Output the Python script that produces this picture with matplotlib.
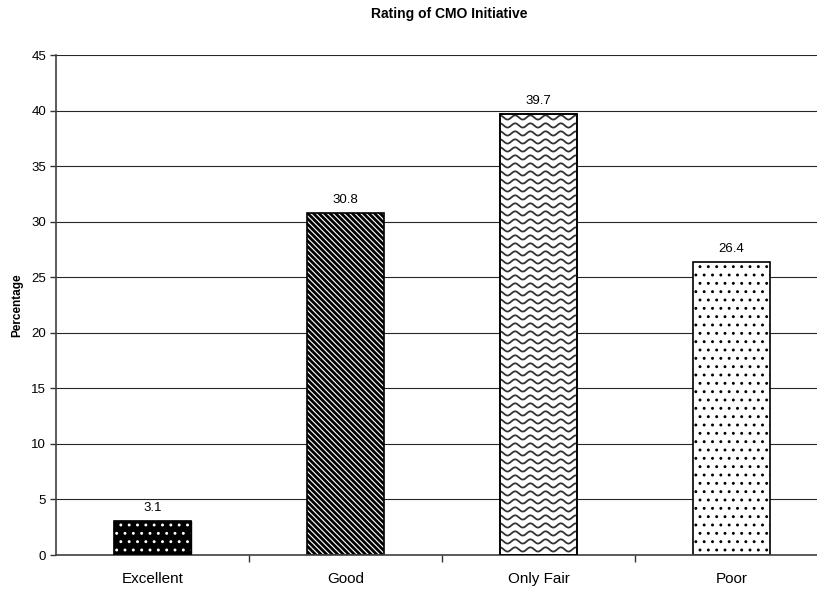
import numpy as np
import matplotlib
matplotlib.use("Agg")
import matplotlib.pyplot as plt

categories = ["Excellent", "Good", "Only Fair", "Poor"]
values = [3.1, 30.8, 39.7, 26.4]
yticks = [0, 5, 10, 15, 20, 25, 30, 35, 40, 45]

plt.rcParams["font.family"] = ["Liberation Sans", "DejaVu Sans"]

fig = plt.figure(figsize=(8.17, 5.90), dpi=100)
# plot area runs slightly past the right edge of the canvas
ax = fig.add_axes([56 / 817, 35 / 590, 772 / 817, 500 / 590])

x = np.arange(len(categories))
width = 0.40

ax.set_xlim(-0.5, len(categories) - 0.5)
ax.set_ylim(0, 45)
ax.set_axisbelow(True)
ax.yaxis.grid(True, color="0.15", linewidth=0.8)

for i, (xi, v) in enumerate(zip(x, values)):
    if i == 0:
        # solid black with white dots
        ax.bar(xi, v, width, color="black", edgecolor="black", linewidth=1.0, zorder=2)
        with plt.rc_context({"hatch.linewidth": 0.9}):
            ax.bar(xi, v, width, facecolor="none", edgecolor="white",
                   hatch="..", linewidth=0, zorder=3)
        ax.bar(xi, v, width, facecolor="none", edgecolor="black", linewidth=1.2, zorder=4)
    elif i == 1:
        # dense downward diagonal stripes
        with plt.rc_context({"hatch.linewidth": 2.0}):
            ax.bar(xi, v, width, facecolor="white", edgecolor="black",
                   hatch="\\" * 6, linewidth=1.2, zorder=2)
    elif i == 2:
        # white with wavy lines
        b = ax.bar(xi, v, width, facecolor="white", edgecolor="black",
                   linewidth=1.2, zorder=2)
        patch = b.patches[0]
        x0, x1 = xi - width / 2, xi + width / 2
        xs = np.linspace(x0 - 0.05, x1 + 0.05, 600)
        wl = 0.079
        amp = 0.19
        for yb in np.arange(0.5, v + 1.0, 0.72):
            ys = yb + amp * np.cos(2 * np.pi * (xs - x0) / wl)
            line, = ax.plot(xs, ys, color="0.2", linewidth=1.3, zorder=3)
            line.set_clip_path(patch)
        ax.bar(xi, v, width, facecolor="none", edgecolor="black", linewidth=1.2, zorder=4)
    else:
        # white with small dots
        with plt.rc_context({"hatch.linewidth": 0.9}):
            ax.bar(xi, v, width, facecolor="white", edgecolor="black",
                   hatch="..", linewidth=1.2, zorder=2)

for xi, v in zip(x, values):
    ax.annotate(f"{v:.1f}", (xi, v), xytext=(0, 5), textcoords="offset points",
                ha="center", va="bottom", fontsize=9.5)

ax.set_yticks(yticks)
ax.set_yticklabels([str(t) for t in yticks], fontsize=9.5)
ax.set_xticks(x)
ax.set_xticklabels(categories, fontsize=11)
ax.set_xticks(np.arange(0.5, len(categories) - 0.5, 1.0), minor=True)
ax.tick_params(axis="x", which="major", length=0, pad=12)
ax.tick_params(axis="x", which="minor", length=5, width=1, color="0.2", direction="out")
ax.tick_params(axis="y", length=4, width=1, color="0.2", direction="out", pad=3)

for s in ["top", "right"]:
    ax.spines[s].set_visible(False)
for s in ["left", "bottom"]:
    ax.spines[s].set_color("0.25")
    ax.spines[s].set_linewidth(1.2)

ax.set_ylabel("Percentage", fontsize=8.5, fontweight="bold", labelpad=6)
fig.text(449 / 817, 1 - 14 / 590, "Rating of CMO Initiative", ha="center", va="center",
         fontsize=10, fontweight="bold")

fig.savefig("out.png", dpi=100)
